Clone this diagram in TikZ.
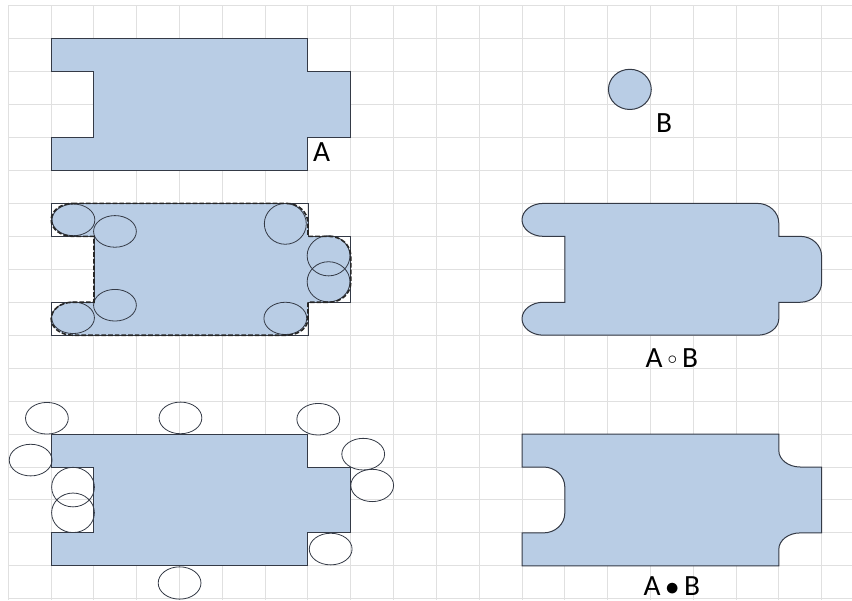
\documentclass[tikz,border=0pt]{standalone}
\usepackage{fontspec}
\setmainfont{Carlito}
\definecolor{setfill}{RGB}{185,205,229}
\definecolor{setline}{RGB}{52,58,70}
\definecolor{gridgray}{RGB}{224,224,224}

\begin{document}
\begin{tikzpicture}[x=32.1pt,y=-24.7125pt,line width=.75pt,
  region/.style={fill=setfill,draw=setline},
  gridline/.style={draw=gridgray,line width=.75pt},
  probe/.style={draw=setline,line width=.6pt},
  outline/.style={draw=setline,line width=.55pt},
  openline/.style={draw=black!85,line width=1.2pt,dash pattern=on 3.5pt off 1.5pt},
  lbl/.style={inner sep=0pt,font=\fontsize{22}{26}\selectfont}]
\path[use as bounding box] (-0.196,-0.173) rectangle (19.71,18.037);
\foreach \i in {0,...,19} \draw[gridline] (\i,0) -- (\i,18.037);
\foreach \j in {0,...,18} \draw[gridline] (0,\j) -- (19.71,\j);
\draw[region] (1,1) -- (7,1) -- (7,2) -- (8,2) -- (8,4) -- (7,4) -- (7,5) -- (1,5) -- (1,4) -- (2,4) -- (2,2) -- (1,2) -- cycle;
\draw[region] (14.52,2.54) ellipse[x radius=.5,y radius=.61];
\node[lbl] (labA) at (7.32,4.43) {A};
\node[lbl] (labB) at (15.32,3.57) {B};
\fill[setfill] (1.5,6) -- (6.5,6) arc[start angle=270,end angle=360,x radius=.5,y radius=.6] -- (7,7) -- (7.5,7) arc[start angle=270,end angle=360,x radius=.5,y radius=.6] -- (8,8.4) arc[start angle=0,end angle=90,x radius=.5,y radius=.6] -- (7,9) -- (7,9.5) arc[start angle=0,end angle=90,x radius=.5,y radius=.5] -- (1.5,10) arc[start angle=90,end angle=270,x radius=.5,y radius=.5] -- (2,9) -- (2,7) -- (1.5,7) arc[start angle=90,end angle=270,x radius=.5,y radius=.5] -- cycle;
\draw[outline] (1,6) -- (7,6) -- (7,7) -- (8,7) -- (8,9) -- (7,9) -- (7,10) -- (1,10) -- (1,9) -- (2,9) -- (2,7) -- (1,7) -- cycle;
\draw[probe] (1.52,6.5) ellipse[x radius=.5,y radius=.48];
\draw[probe] (2.49,6.85) ellipse[x radius=.5,y radius=.48];
\draw[probe] (2.49,9.09) ellipse[x radius=.5,y radius=.48];
\draw[probe] (1.51,9.47) ellipse[x radius=.5,y radius=.48];
\draw[probe] (6.47,6.62) ellipse[x radius=.49,y radius=.62];
\draw[probe] (7.48,7.59) ellipse[x radius=.5,y radius=.61];
\draw[probe] (7.48,8.38) ellipse[x radius=.5,y radius=.61];
\draw[probe] (6.47,9.49) ellipse[x radius=.5,y radius=.49];
\draw[openline] (1.5,6) -- (6.5,6) arc[start angle=270,end angle=360,x radius=.5,y radius=.6] -- (7,7) -- (7.5,7) arc[start angle=270,end angle=360,x radius=.5,y radius=.6] -- (8,8.4) arc[start angle=0,end angle=90,x radius=.5,y radius=.6] -- (7,9) -- (7,9.5) arc[start angle=0,end angle=90,x radius=.5,y radius=.5] -- (1.5,10) arc[start angle=90,end angle=270,x radius=.5,y radius=.5] -- (2,9) -- (2,7) -- (1.5,7) arc[start angle=90,end angle=270,x radius=.5,y radius=.5] -- cycle;
\draw[region] (12.5,6) -- (17.5,6) arc[start angle=270,end angle=360,x radius=.5,y radius=.6] -- (18,7) -- (18.5,7) arc[start angle=270,end angle=360,x radius=.5,y radius=.6] -- (19,8.4) arc[start angle=0,end angle=90,x radius=.5,y radius=.6] -- (18,9) -- (18,9.5) arc[start angle=0,end angle=90,x radius=.5,y radius=.5] -- (12.5,10) arc[start angle=90,end angle=270,x radius=.5,y radius=.5] -- (13,9) -- (13,7) -- (12.5,7) arc[start angle=90,end angle=270,x radius=.5,y radius=.5] -- cycle;
\node[lbl] (labOpen) at (15.5,10.68) {A\,\raisebox{.1em}{$\scriptstyle\circ$}\,B};
\draw[region] (1,13) -- (7,13) -- (7,14) -- (8,14) -- (8,16) -- (7,16) -- (7,17) -- (1,17) -- (1,16) -- (2,16) -- (2,14) -- (1,14) -- cycle;
\draw[probe] (0.9,12.52) ellipse[x radius=.5,y radius=.48];
\draw[probe] (0.52,13.79) ellipse[x radius=.5,y radius=.48];
\draw[probe] (1.51,14.61) ellipse[x radius=.5,y radius=.6];
\draw[probe] (1.51,15.39) ellipse[x radius=.5,y radius=.6];
\draw[probe] (4.02,12.51) ellipse[x radius=.5,y radius=.48];
\draw[probe] (7.24,12.55) ellipse[x radius=.5,y radius=.48];
\draw[probe] (8.29,13.61) ellipse[x radius=.5,y radius=.48];
\draw[probe] (8.5,14.56) ellipse[x radius=.5,y radius=.49];
\draw[probe] (7.53,16.49) ellipse[x radius=.5,y radius=.48];
\draw[probe] (4,17.52) ellipse[x radius=.5,y radius=.49];
\draw[region] (12,13) -- (18,13) -- (18,13.5) arc[start angle=180,end angle=90,x radius=.5,y radius=.5] -- (19,14) -- (19,16) -- (18.5,16) arc[start angle=270,end angle=180,x radius=.5,y radius=.5] -- (18,17) -- (12,17) -- (12,16) -- (12.5,16) arc[start angle=90,end angle=0,x radius=.5,y radius=.6] -- (13,14.6) arc[start angle=0,end angle=-90,x radius=.5,y radius=.6] -- (12,14) -- cycle;
\node[lbl] (labClose) at (15.5,17.6) {A\,$\bullet$\,B};
\end{tikzpicture}
\end{document}
